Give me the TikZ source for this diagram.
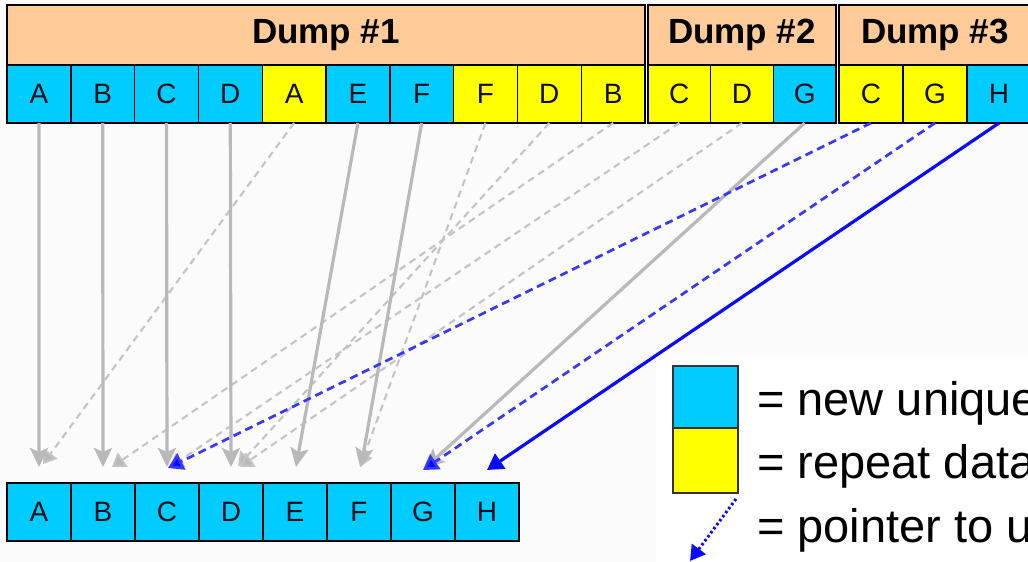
\documentclass[tikz,border=0pt]{standalone}
\usepackage{fontspec}
\setmainfont{Liberation Sans}
\usetikzlibrary{arrows.meta,calc}
\definecolor{cellcyan}{RGB}{0,204,255}
\definecolor{cellyellow}{RGB}{255,255,0}
\definecolor{peach}{RGB}{255,204,153}
\definecolor{bgcol}{RGB}{251,251,251}
\definecolor{lgray}{RGB}{185,185,185}
\definecolor{dgray}{RGB}{196,196,196}
\definecolor{pblue}{RGB}{10,10,255}
\definecolor{dblue}{RGB}{55,55,255}
\definecolor{inkcol}{RGB}{15,15,25}
\begin{document}
\begin{tikzpicture}[x=1pt,y=-1pt,
  cell/.style={draw=black, line width=1.4pt, inner sep=0pt, outer sep=0pt,
    minimum height=58pt, text=inkcol, font=\fontsize{28}{32}\selectfont},
  head/.style={draw=black, line width=1.4pt, fill=peach, inner sep=0pt, outer sep=0pt,
    minimum height=60pt, font=\fontsize{35}{40}\selectfont\bfseries},
  gsolid/.style={draw=lgray, line width=3.2pt, -{Stealth[length=19pt,width=18pt,inset=4pt,fill=lgray]}},
  gdash/.style={draw=dgray, line width=2.1pt, dash pattern=on 7pt off 5pt, -{Triangle[length=13pt,width=17pt,fill=lgray]}},
  bdash/.style={draw=dblue, line width=2.7pt, dash pattern=on 8pt off 5pt, -{Triangle[length=15pt,width=18pt,fill=pblue]}},
  bsolid/.style={draw=pblue, line width=3.2pt, -{Triangle[length=16pt,width=18pt,fill=pblue]}},
  bdot/.style={draw=pblue, line width=3pt, dash pattern=on 2.5pt off 2.5pt, -{Triangle[length=15pt,width=17pt,fill=pblue]}},
  legbox/.style={draw=black!80, line width=1.4pt, inner sep=0pt, outer sep=0pt, minimum width=65pt},
  legtext/.style={anchor=base west, inner sep=0pt, font=\fontsize{47}{56}\selectfont}
]
\path[use as bounding box] (0,0) rectangle (1028,562);
\clip (0,0) rectangle (1028,562);
\fill[bgcol] (0,0) rectangle (1028,562);

% headers
\node[head, minimum width=638pt] (h1) at (326,35) {Dump \#1};
\node[head, minimum width=188pt] (h2) at (742,35) {Dump \#2};
\node[head, minimum width=192pt] (h3) at (935,35) {Dump \#3};

% dump 1 cells
\foreach \l/\c [count=\i] in {A/cellcyan,B/cellcyan,C/cellcyan,D/cellcyan,A/cellyellow,E/cellcyan,F/cellcyan,F/cellyellow,D/cellyellow,B/cellyellow}
  \node[cell, fill=\c, minimum width=63.8pt] (t\i) at ({7+63.8*(\i-0.5)},94) {\l};
% dump 2 cells
\foreach \l/\c [count=\i from 11] in {C/cellyellow,D/cellyellow,G/cellcyan}
  \node[cell, fill=\c, minimum width=62.67pt] (t\i) at ({648+62.67*(\i-10.5)},94) {\l};
% dump 3 cells
\foreach \l/\c [count=\i from 14] in {C/cellyellow,G/cellyellow,H/cellcyan}
  \node[cell, fill=\c, minimum width=64pt] (t\i) at ({839+64*(\i-13.5)},94) {\l};

% bottom unique store
\foreach \l [count=\i] in {A,B,C,D,E,F,G,H}
  \node[cell, fill=cellcyan, minimum width=64pt] (b\i) at ({7+64*(\i-0.5)},512) {\l};

% connectors: gray dashed (repeats in dumps 1-2)
\draw[gdash] (t5.south) -- ([xshift=4pt,yshift=19pt]b1.north);
\draw[gdash] (t8.south) -- ([xshift=1pt,yshift=16pt]b6.north);
\draw[gdash] (t9.south) -- ([xshift=7pt,yshift=17pt]b4.north);
\draw[gdash] (t10.south) -- ([xshift=9pt,yshift=16pt]b2.north);
\draw[gdash] (t11.south) -- ([xshift=3pt,yshift=16pt]b3.north);
\draw[gdash] (t12.south) -- ([xshift=9pt,yshift=16pt]b4.north);

% gray solid (new data in dumps 1-2)
\draw[gsolid] (t1.south) -- ([yshift=16pt]b1.north);
\draw[gsolid] (t2.south) -- ([yshift=16pt]b2.north);
\draw[gsolid] (t3.south) -- ([yshift=16pt]b3.north);
\draw[gsolid] (t4.south) -- ([yshift=16pt]b4.north);
\draw[gsolid] (t6.south) -- ([xshift=1pt,yshift=16pt]b5.north);
\draw[gsolid] (t7.south) -- ([xshift=2pt,yshift=16pt]b6.north);
\draw[gsolid] (t13.south) -- ([xshift=2pt,yshift=15pt]b7.north);

% blue (dump 3)
\draw[bdash] (t14.south) -- ([xshift=1pt,yshift=15pt]b3.north);
\draw[bdash] (t15.south) -- ([xshift=0pt,yshift=13pt]b7.north);
\draw[bsolid] (t16.south) -- ([xshift=0pt,yshift=13pt]b8.north);

% legend
\fill[white] (656,357) rectangle (1030,565);
\node[legbox, fill=cellcyan, minimum height=62pt] (lnew) at (705.5,397) {};
\node[legbox, fill=cellyellow, minimum height=65pt] (lrep) at (705.5,460.5) {};
\node[legtext] (tnew) at (757,415) {= new unique};
\node[legtext] (trep) at (757,478) {= repeat data};
\node[legtext] (tptr) at (757,542) {= pointer to u};
\coordinate (dend) at (690,561);
\draw[bdot] ([xshift=-2pt,yshift=-6pt]lrep.south east) -- (dend);
\end{tikzpicture}
\end{document}
